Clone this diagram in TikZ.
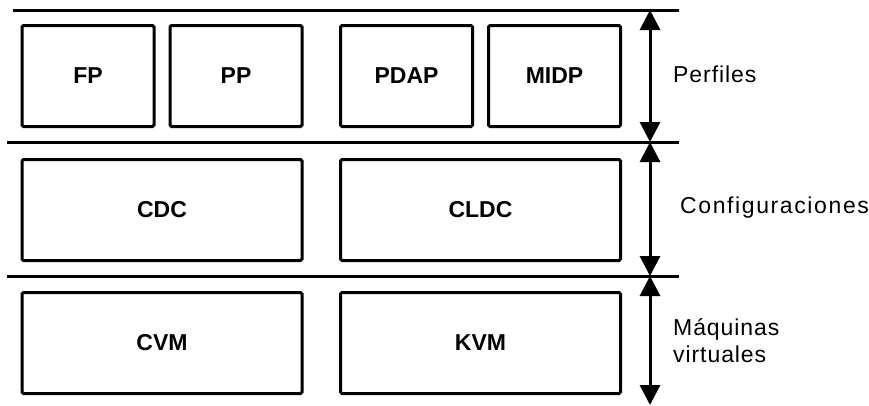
\documentclass[tikz,border=0pt]{standalone}
\usepackage{fontspec}
\setmainfont{Liberation Sans}
\usetikzlibrary{arrows.meta}
\begin{document}
\begin{tikzpicture}[x=1pt,y=-1pt,
  layerbox/.style={draw, line width=3pt, rounded corners=1.5pt, minimum width=#1,
    minimum height=101pt, inner sep=0pt, font=\fontsize{23}{27}\selectfont\bfseries},
  sepline/.style={line width=3pt},
  span/.style={line width=3pt, {Triangle[length=20pt,width=20pt]}-{Triangle[length=20pt,width=20pt]}},
  layername/.style={anchor=base west, inner sep=0pt, font=\fontsize{23}{27}\selectfont\addfontfeatures{LetterSpace=#1}},
  layername/.default=4
]
\useasboundingbox (0,0) rectangle (869,405);

% separator lines
\coordinate (l1a) at (13,10);  \coordinate (l1b) at (679,10);
\coordinate (l2a) at (7,142);  \coordinate (l2b) at (679,142);
\coordinate (l3a) at (7,276);  \coordinate (l3b) at (679,276);
\draw[sepline] (l1a) -- (l1b);
\draw[sepline] (l2a) -- (l2b);
\draw[sepline] (l3a) -- (l3b);

% profiles
\node[layerbox=132pt] (fp)   at (88,76)    {FP};
\node[layerbox=132pt] (pp)   at (236,76)   {PP};
\node[layerbox=132pt] (pdap) at (406.5,76) {PDAP};
\node[layerbox=132pt] (midp) at (554.5,76) {MIDP};

% configurations
\node[layerbox=280pt] (cdc)  at (162,210)   {CDC};
\node[layerbox=280pt] (cldc) at (480.5,210) {CLDC};

% virtual machines
\node[layerbox=280pt] (cvm)  at (162,343)   {CVM};
\node[layerbox=280pt] (kvm)  at (480.5,343) {KVM};

% extent arrows
\coordinate (a0) at (650,10);
\coordinate (a1) at (650,142);
\coordinate (a2) at (650,276);
\coordinate (a3) at (650,405);
\draw[span] (a0) -- (a1);
\draw[span] (a1) -- (a2);
\draw[span] (a2) -- (a3);

% layer names
\node[layername] (perf) at (673,82)  {Perfiles};
\node[layername=7] (conf) at (680,213) {Configuraciones};
\node[layername] (maq)  at (673,335) {Máquinas};
\node[layername] (virt) at (673,362) {virtuales};
\end{tikzpicture}
\end{document}
